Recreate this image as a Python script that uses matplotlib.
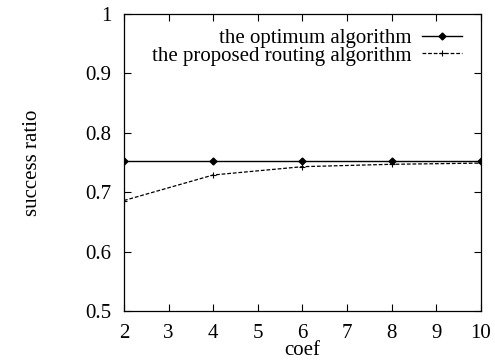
import matplotlib

matplotlib.use("Agg")
import matplotlib.pyplot as plt

coef = [2, 4, 6, 8, 10]
optimum = [0.752, 0.752, 0.752, 0.752, 0.752]
proposed = [0.686, 0.729, 0.743, 0.747, 0.749]

plt.rcParams["font.family"] = ["Liberation Serif", "DejaVu Serif"]
FS = 15

fig = plt.figure(figsize=(4.95, 3.64), dpi=100)
ax = fig.add_axes([0.2505, 0.1456, 0.7212, 0.8159])

ax.plot(coef, optimum, "-", color="black", lw=1.0, marker="D", ms=3.5,
        label="the optimum algorithm")
ax.plot(coef, proposed, "--", color="black", lw=0.9, dashes=(3, 1.5), marker="+", ms=5,
        mew=0.8, label="the proposed routing algorithm")

ax.set_xlim(2, 10)
ax.set_ylim(0.5, 1.0)
ax.set_xticks(range(2, 11))
ax.set_yticks([0.5, 0.6, 0.7, 0.8, 0.9, 1.0])
ax.set_yticklabels(["0.5", "0.6", "0.7", "0.8", "0.9", "1"])
ax.tick_params(direction="in", length=5, width=0.8, top=True, right=True, labelsize=FS)
ax.tick_params(axis="y", pad=9)
ax.tick_params(axis="x", pad=9)
ax.set_xlabel("coef", fontsize=FS, labelpad=-1)
ax.set_ylabel("success ratio", fontsize=FS, labelpad=31)
for s in ax.spines.values():
    s.set_linewidth(0.9)

ax.legend(loc="upper right", bbox_to_anchor=(0.978, 0.99), frameon=False,
          markerfirst=False, fontsize=FS, handlelength=1.9, borderaxespad=0.25,
          labelspacing=-0.1, handletextpad=0.5, borderpad=0.3)

fig.savefig("out.png", dpi=100)
